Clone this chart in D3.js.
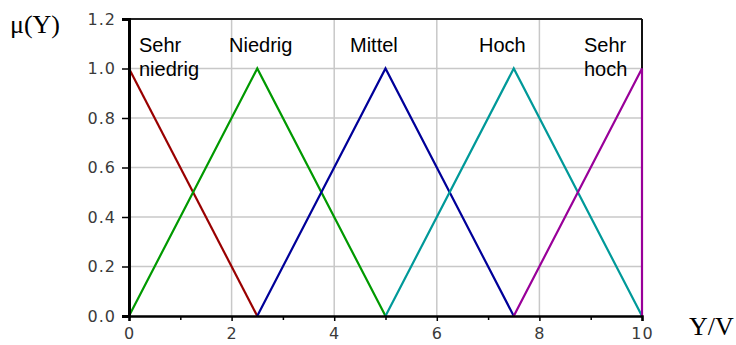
<!DOCTYPE html>
<html><head><meta charset="utf-8">
<script src="https://cdn.jsdelivr.net/npm/d3@7"></script>
<style>body{margin:0;background:#fff;}svg{display:block;}</style>
</head><body>
<script>
const xTicks = [0, 2, 4, 6, 8, 10];
const xMinorTicks = [1, 3, 5, 7, 9];
const yTicks = [0.0, 0.2, 0.4, 0.6, 0.8, 1.0, 1.2];
const setNames = ["Sehr niedrig", "Niedrig", "Mittel", "Hoch", "Sehr hoch"];
const setColors = ["#990000", "#009900", "#000099", "#009999", "#990099"];
const sehrNiedrig = [[0, 1], [2.5, 0]];
const niedrig = [[0, 0], [2.5, 1], [5, 0]];
const mittel = [[2.5, 0], [5, 1], [7.5, 0]];
const hoch = [[5, 0], [7.5, 1], [10, 0]];
const sehrHoch = [[7.5, 0], [10, 1], [10, 0]];
const series = [sehrNiedrig, niedrig, mittel, hoch, sehrHoch];
const labelLines = [["Sehr", "niedrig"], ["Niedrig"], ["Mittel"], ["Hoch"], ["Sehr", "hoch"]];

const W = 736, H = 345;
const svg = d3.select("body").append("svg").attr("width", W).attr("height", H);
const x = d3.scaleLinear().domain([0, 10]).range([129, 642]);
const y = d3.scaleLinear().domain([0, 1.2]).range([316, 19]);

// grid
svg.append("g").selectAll("line").data(xTicks.slice(1, -1)).join("line")
  .attr("x1", d => x(d)).attr("x2", d => x(d)).attr("y1", y(0)).attr("y2", y(1.2))
  .attr("stroke", "#c8c8c8").attr("stroke-width", 1.5);
svg.append("g").selectAll("line").data(yTicks.slice(1, -1)).join("line")
  .attr("x1", x(0)).attr("x2", x(10)).attr("y1", d => y(d)).attr("y2", d => y(d))
  .attr("stroke", "#c8c8c8").attr("stroke-width", 1.5);

// top and right border
svg.append("line").attr("x1", x(0)).attr("x2", x(10)).attr("y1", y(1.2)).attr("y2", y(1.2))
  .attr("stroke", "#222").attr("stroke-width", 2);
svg.append("line").attr("x1", x(10)).attr("x2", x(10)).attr("y1", y(1.2)).attr("y2", y(0))
  .attr("stroke", "#111").attr("stroke-width", 2);

// series
const line = d3.line().x(d => x(d[0])).y(d => y(d[1]));
svg.append("g").selectAll("path").data(series).join("path")
  .attr("d", line).attr("fill", "none")
  .attr("stroke", (d, i) => setColors[i]).attr("stroke-width", 2.2);

// axes
const tickFont = "'DejaVu Sans', Verdana, sans-serif";
const fontFam = "'Liberation Sans', Arial, sans-serif";
const xAxis = svg.append("g").attr("transform", `translate(0,${y(0)})`)
  .call(d3.axisBottom(x).tickValues(xTicks).tickFormat(d3.format("d")).tickSize(5).tickPadding(7));
const xMinor = svg.append("g").attr("transform", `translate(0,${y(0)})`)
  .call(d3.axisBottom(x).tickValues(xMinorTicks).tickFormat("").tickSize(4));
xMinor.select(".domain").remove();
const yAxis = svg.append("g").attr("transform", `translate(${x(0)},0)`)
  .call(d3.axisLeft(y).tickValues(yTicks).tickFormat(d3.format(".1f")).tickSize(7).tickPadding(6));
[xAxis, xMinor, yAxis].forEach(g => {
  g.selectAll(".tick line").attr("stroke", "#000").attr("stroke-width", 1.5);
  g.selectAll("text").attr("fill", "#3a3a3a").style("font-family", tickFont)
    .style("font-size", "16px").style("letter-spacing", "1px");
});
xAxis.select(".domain").attr("stroke", "#000").attr("stroke-width", 2.5);
yAxis.select(".domain").attr("stroke", "#000").attr("stroke-width", 3);

// set labels
const labelX = [139, 229, 350, 479, 584];
labelLines.forEach((lines, i) => {
  const t = svg.append("text")
    .style("font-family", fontFam).style("font-size", "20px").attr("fill", "#000");
  lines.forEach((s, j) => t.append("tspan").attr("x", labelX[i]).attr("y", 52 + j * 24).text(s));
});

// axis titles
svg.append("text").attr("x", 10).attr("y", 33).text("μ(Y)")
  .style("font-family", "'Liberation Serif', 'Times New Roman', serif").style("font-size", "26px");
svg.append("text").attr("x", 689).attr("y", 335).text("Y/V")
  .style("font-family", "'Liberation Serif', 'Times New Roman', serif").style("font-size", "26px");
</script>
</body></html>
